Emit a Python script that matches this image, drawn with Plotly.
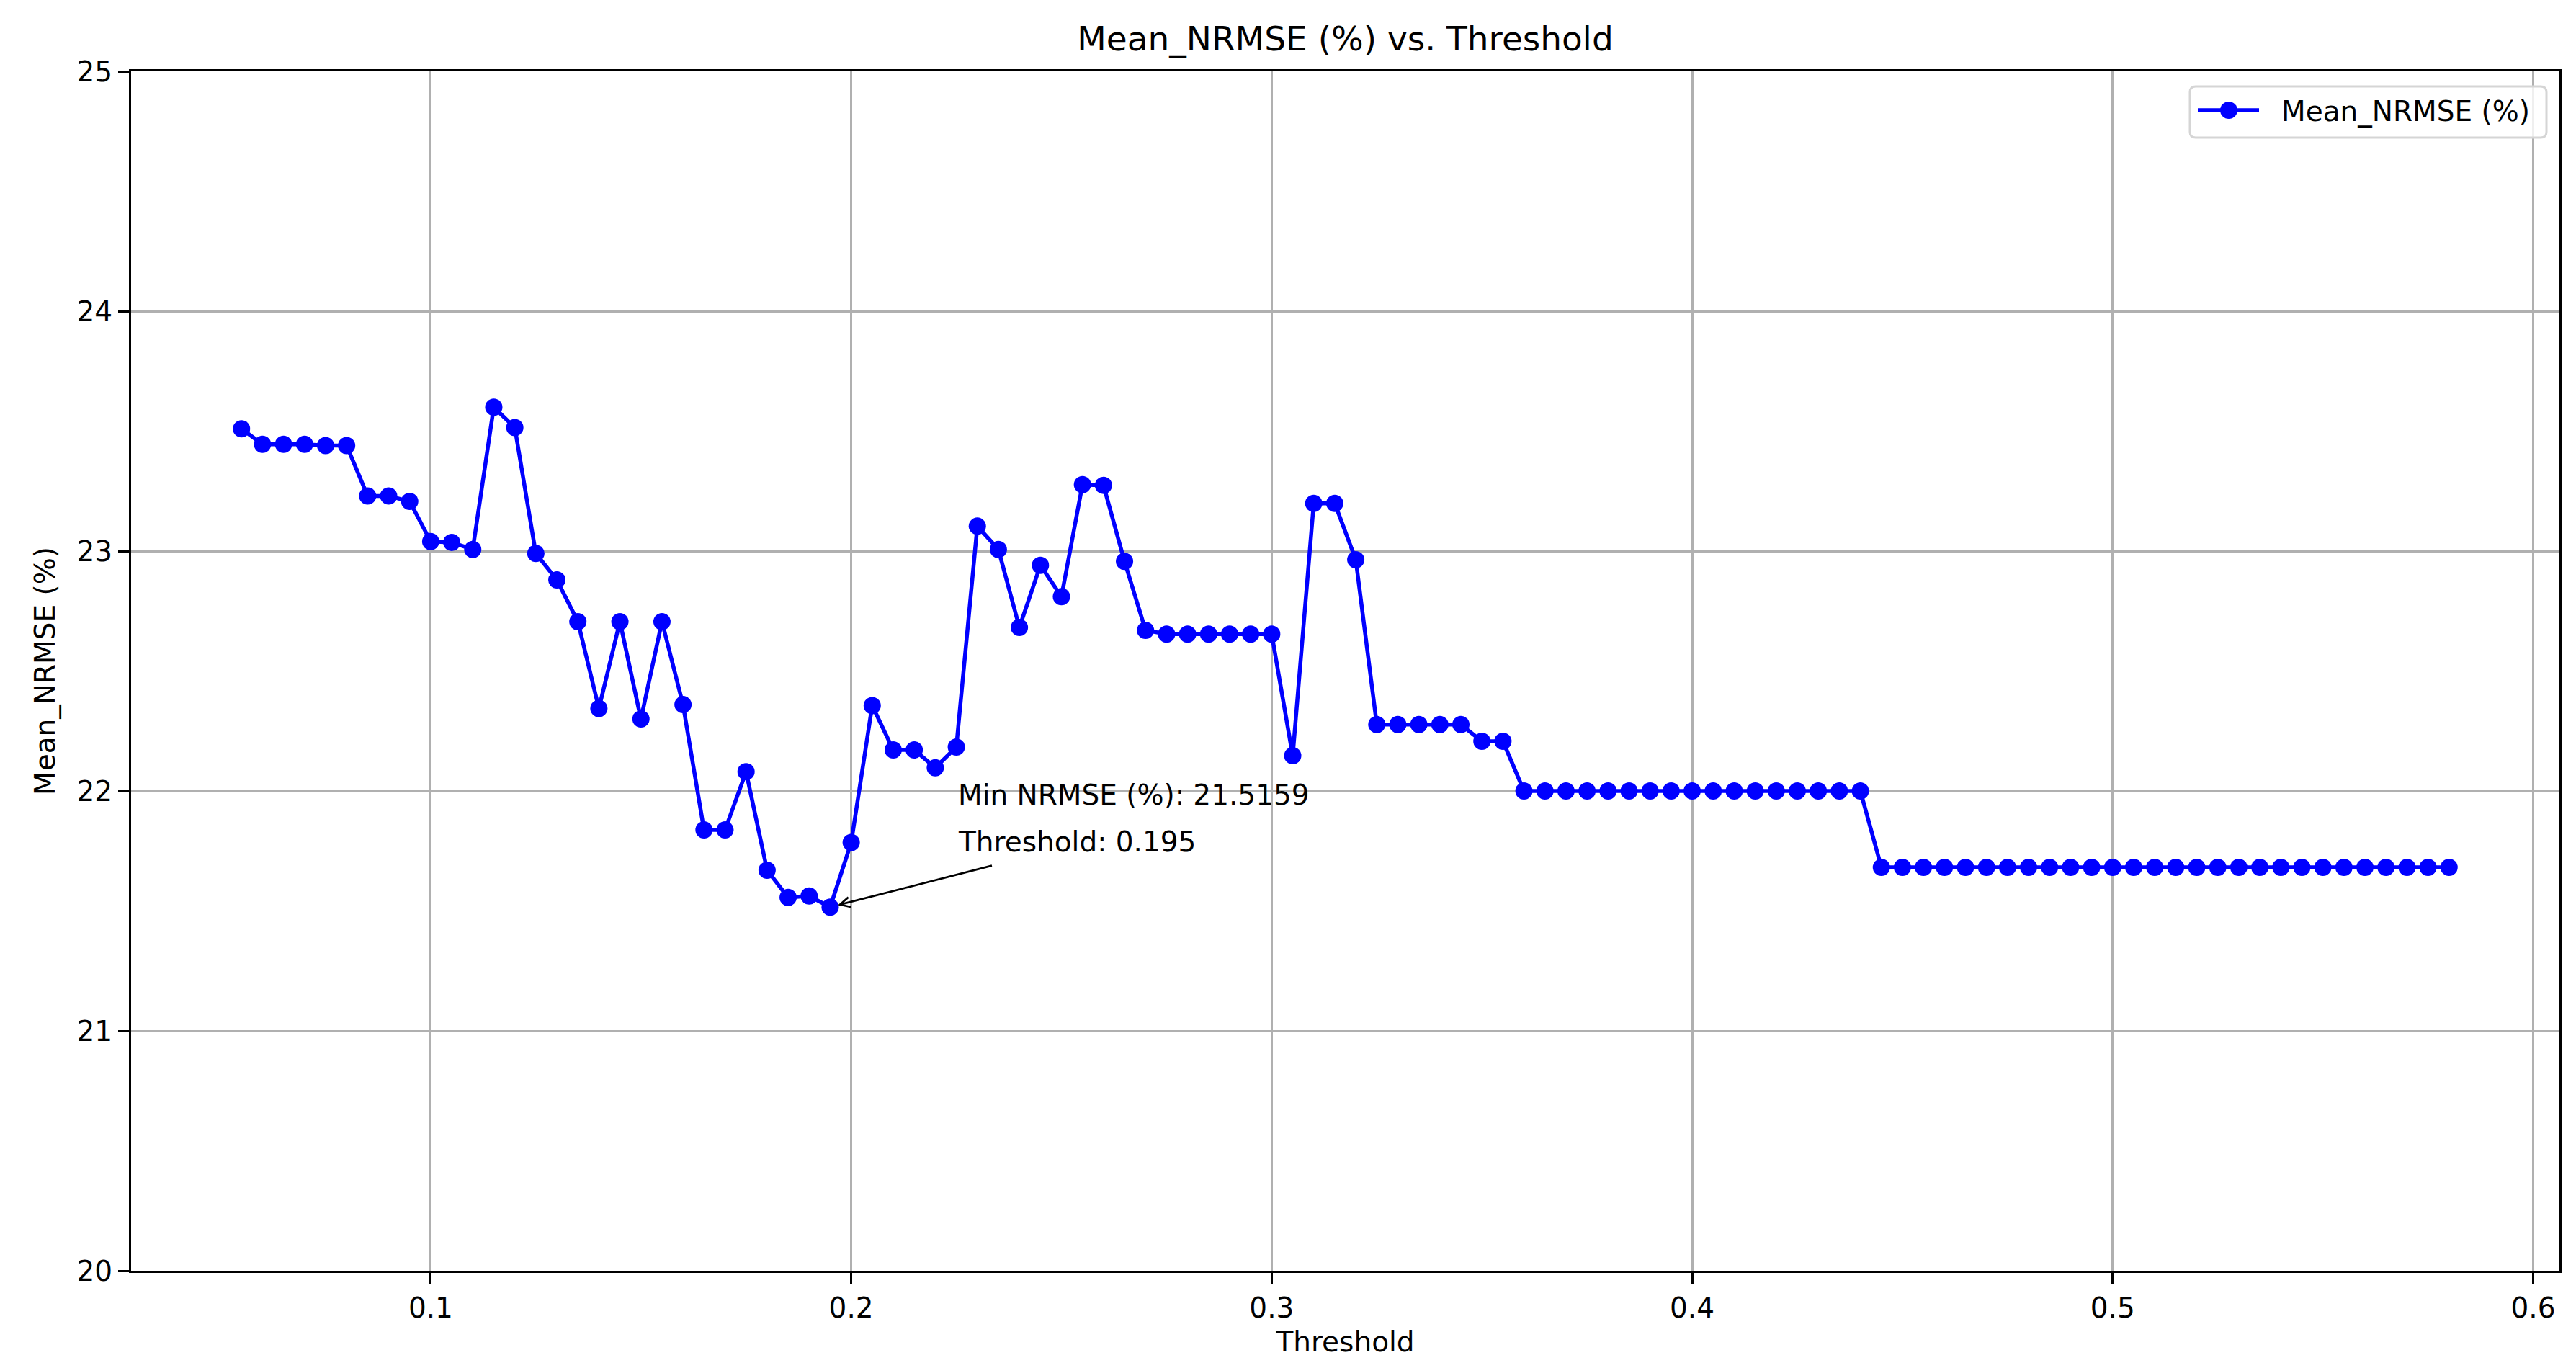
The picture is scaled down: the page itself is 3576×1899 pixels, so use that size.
import plotly.graph_objects as go

# ---------------- data ----------------
thresholds = [
    0.055, 0.060, 0.065, 0.070, 0.075, 0.080, 0.085, 0.090, 0.095, 0.100,
    0.105, 0.110, 0.115, 0.120, 0.125, 0.130, 0.135, 0.140, 0.145, 0.150,
    0.155, 0.160, 0.165, 0.170, 0.175, 0.180, 0.185, 0.190, 0.195, 0.200,
    0.205, 0.210, 0.215, 0.220, 0.225, 0.230, 0.235, 0.240, 0.245, 0.250,
    0.255, 0.260, 0.265, 0.270, 0.275, 0.280, 0.285, 0.290, 0.295, 0.300,
    0.305, 0.310, 0.315, 0.320, 0.325, 0.330, 0.335, 0.340, 0.345, 0.350,
    0.355, 0.360, 0.365, 0.370, 0.375, 0.380, 0.385, 0.390, 0.395, 0.400,
    0.405, 0.410, 0.415, 0.420, 0.425, 0.430, 0.435, 0.440, 0.445, 0.450,
    0.455, 0.460, 0.465, 0.470, 0.475, 0.480, 0.485, 0.490, 0.495, 0.500,
    0.505, 0.510, 0.515, 0.520, 0.525, 0.530, 0.535, 0.540, 0.545, 0.550,
    0.555, 0.560, 0.565, 0.570, 0.575, 0.580,
]
mean_nrmse = [
    23.510, 23.445, 23.445, 23.445, 23.440, 23.440, 23.230, 23.230, 23.207, 23.040,
    23.036, 23.007, 23.600, 23.515, 22.990, 22.880, 22.706, 22.344, 22.706, 22.300,
    22.706, 22.360, 21.838, 21.838, 22.080, 21.670, 21.556, 21.562, 21.5159, 21.785,
    22.356, 22.171, 22.171, 22.097, 22.183, 23.104, 23.007, 22.682, 22.941, 22.810,
    23.277, 23.274, 22.957, 22.670, 22.654, 22.654, 22.654, 22.654, 22.654, 22.654,
    22.147, 23.199, 23.199, 22.964, 22.277, 22.277, 22.277, 22.277, 22.277, 22.207,
    22.207, 22.000, 22.000, 22.000, 22.000, 22.000, 22.000, 22.000, 22.000, 22.000,
    22.000, 22.000, 22.000, 22.000, 22.000, 22.000, 22.000, 22.000, 21.682, 21.682,
    21.682, 21.682, 21.682, 21.682, 21.682, 21.682, 21.682, 21.682, 21.682, 21.682,
    21.682, 21.682, 21.682, 21.682, 21.682, 21.682, 21.682, 21.682, 21.682, 21.682,
    21.682, 21.682, 21.682, 21.682, 21.682, 21.682,
]
series_name = "Mean_NRMSE (%)"
x_ticks = [0.1, 0.2, 0.3, 0.4, 0.5, 0.6]
y_ticks = [20, 21, 22, 23, 24, 25]

# ---------------- styling ----------------
W, H = 3576, 1899
ML, MR, MT, MB = 174, 31, 91, 143
PW, PH = W - ML - MR, H - MT - MB
FONT = "DejaVu Sans"
BLUE = "#0000ff"
FS = 39        # 10pt equivalent
FS_TITLE = 47  # 12pt equivalent


def px2paper_x(px):
    return (px - ML) / PW


def px2paper_y(py):
    return 1 - (py - MT) / PH


# minimum point
i_min = min(range(len(mean_nrmse)), key=lambda i: mean_nrmse[i])
min_x, min_y = thresholds[i_min], mean_nrmse[i_min]

fig = go.Figure()
fig.add_trace(go.Scatter(
    x=thresholds, y=mean_nrmse, mode="lines+markers", name=series_name,
    line=dict(color=BLUE, width=5.5),
    marker=dict(color=BLUE, size=24, line=dict(width=0)),
    showlegend=False,
))

axis_common = dict(
    showline=True, linecolor="black", linewidth=3, mirror=True,
    showgrid=True, gridcolor="#b0b0b0", gridwidth=3,
    ticks="outside", ticklen=15, tickwidth=3, tickcolor="black",
    tickfont=dict(family=FONT, size=FS, color="black"),
    zeroline=False, automargin=False,
)

fig.update_xaxes(
    range=[0.02875, 0.60625], tickvals=x_ticks, ticktext=[str(v) for v in x_ticks],
    title=dict(text="Threshold", font=dict(family=FONT, size=FS, color="black"), standoff=12),
    **axis_common,
)
fig.update_yaxes(
    range=[20, 25], tickvals=y_ticks, ticktext=[str(v) for v in y_ticks],
    title=dict(text=series_name, font=dict(family=FONT, size=FS, color="black"), standoff=18),
    **axis_common,
)

# annotation: min point
fig.add_annotation(
    x=min_x, y=min_y, xref="x", yref="y",
    ax=226, ay=-58, axref="pixel", ayref="pixel",
    text="", showarrow=True, arrowhead=5, arrowsize=1.0, arrowwidth=2.7,
    arrowcolor="black", standoff=11, font=dict(size=1),
)
fig.add_annotation(
    x=min_x + 0.03, y=min_y + 0.4, xref="x", yref="y",
    text=f"Min NRMSE (%): {min_y:.4f}", showarrow=False,
    xanchor="left", yanchor="middle", yshift=23,
    font=dict(family=FONT, size=FS, color="black"),
)
fig.add_annotation(
    x=min_x + 0.03, y=min_y + 0.4, xref="x", yref="y",
    text=f"Threshold: {min_x:.3f}", showarrow=False,
    xanchor="left", yanchor="middle", yshift=-42,
    font=dict(family=FONT, size=FS, color="black"),
)

# custom legend (matplotlib-style, upper right)
lx0, lx1, ly0, ly1 = 3032, 3527, 112, 183
r = 8
rx, ry = r / PW, r / PH
X0, X1 = px2paper_x(lx0), px2paper_x(lx1)
Y0, Y1 = px2paper_y(ly0), px2paper_y(ly1)
path = (
    f"M {X0+rx},{Y0} L {X1-rx},{Y0} Q {X1},{Y0} {X1},{Y0-ry} "
    f"L {X1},{Y1+ry} Q {X1},{Y1} {X1-rx},{Y1} "
    f"L {X0+rx},{Y1} Q {X0},{Y1} {X0},{Y1+ry} "
    f"L {X0},{Y0-ry} Q {X0},{Y0} {X0+rx},{Y0} Z"
)
fig.add_shape(type="path", path=path, xref="paper", yref="paper",
              fillcolor="rgba(255,255,255,0.8)", line=dict(color="#d5d5d5", width=3),
              layer="above")
hy = px2paper_y(145)
fig.add_shape(type="line", xref="paper", yref="paper",
              x0=px2paper_x(3043), x1=px2paper_x(3128), y0=hy, y1=hy,
              line=dict(color=BLUE, width=5.5), layer="above")
mcx, mcy, mr = 3086, 145, 12
fig.add_shape(type="circle", xref="paper", yref="paper",
              x0=px2paper_x(mcx - mr), x1=px2paper_x(mcx + mr),
              y0=px2paper_y(mcy + mr), y1=px2paper_y(mcy - mr),
              fillcolor=BLUE, line=dict(width=0), layer="above")
fig.add_annotation(
    x=px2paper_x(3157), y=px2paper_y(146), xref="paper", yref="paper",
    text=series_name, showarrow=False, xanchor="left", yanchor="middle",
    font=dict(family=FONT, size=FS, color="black"),
)

fig.update_layout(
    width=W, height=H,
    margin=dict(l=ML, r=MR, t=MT, b=MB, pad=0),
    paper_bgcolor="white", plot_bgcolor="white",
    title=dict(text="Mean_NRMSE (%) vs. Threshold", x=0.5, xref="paper",
               y=1 - 46 / H, yref="container", yanchor="middle", xanchor="center",
               font=dict(family=FONT, size=FS_TITLE, color="black")),
    font=dict(family=FONT, color="black"),
    showlegend=False,
)

fig.write_html("out.html")
